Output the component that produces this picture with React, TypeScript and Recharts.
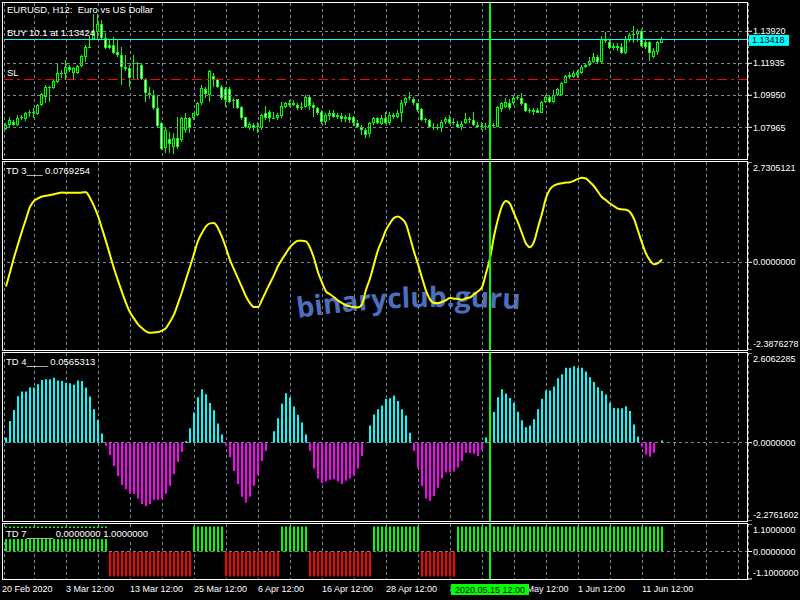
import React from 'react';
import { ComposedChart, Bar, Line, XAxis, YAxis, CartesianGrid, ReferenceLine, Cell } from 'recharts';

// ---------- data ----------
const opens = [
  1.0784, 1.0811, 1.0832, 1.0811, 1.0852, 1.0846, 1.0883, 1.0894, 1.0879, 1.0935,
  1.0987, 1.1049, 1.1038, 1.1080, 1.1131, 1.1127, 1.1168, 1.1131, 1.1131, 1.1177,
  1.1235, 1.1297, 1.1342, 1.1390, 1.1437, 1.1348, 1.1307, 1.1307, 1.1266, 1.1245,
  1.1173, 1.1162, 1.1189, 1.1197, 1.1183, 1.1094, 1.1007, 1.0997, 1.0914, 1.0821,
  1.0666, 1.0722, 1.0677, 1.0728, 1.0718, 1.0780, 1.0852, 1.0852, 1.0873, 1.0945,
  1.1032, 1.0997, 1.1115, 1.1094, 1.1044, 1.1032, 1.1032, 1.0960, 1.0970, 1.0920,
  1.0858, 1.0790, 1.0811, 1.0796, 1.0790, 1.0887, 1.0894, 1.0852, 1.0852, 1.0867,
  1.0925, 1.0945, 1.0945, 1.0933, 1.0914, 1.0920, 1.0987, 1.0935, 1.0914, 1.0894,
  1.0832, 1.0867, 1.0883, 1.0873, 1.0867, 1.0846, 1.0863, 1.0858, 1.0825, 1.0801,
  1.0780, 1.0755, 1.0821, 1.0852, 1.0817, 1.0852, 1.0821, 1.0873, 1.0863, 1.0883,
  1.0945, 1.0976, 1.0974, 1.0945, 1.0908, 1.0842, 1.0842, 1.0801, 1.0794, 1.0790,
  1.0832, 1.0846, 1.0825, 1.0817, 1.0801, 1.0821, 1.0846, 1.0842, 1.0811, 1.0801,
  1.0807, 1.0801, 1.0811, 1.0801, 1.0908, 1.0925, 1.0949, 1.0945, 1.0976, 1.0976,
  1.0945, 1.0900, 1.0904, 1.0904, 1.0887, 1.0956, 1.0982, 1.0956, 1.0997, 1.0997,
  1.1073, 1.1119, 1.1106, 1.1121, 1.1135, 1.1168, 1.1183, 1.1204, 1.1230, 1.1204,
  1.1342, 1.1328, 1.1286, 1.1301, 1.1297, 1.1259, 1.1338, 1.1369, 1.1375, 1.1396,
  1.1328, 1.1328, 1.1235, 1.1266, 1.1321,
];
const highs = [
  1.0821, 1.0863, 1.0842, 1.0873, 1.0873, 1.0894, 1.0904, 1.0914, 1.0941, 1.1007,
  1.1059, 1.1052, 1.1094, 1.1189, 1.1152, 1.1214, 1.1183, 1.1173, 1.1183, 1.1245,
  1.1307, 1.1363, 1.1499, 1.1499, 1.1462, 1.1379, 1.1338, 1.1359, 1.1338, 1.1297,
  1.1245, 1.1183, 1.1245, 1.1204, 1.1193, 1.1100, 1.1044, 1.1028, 1.0997, 1.0832,
  1.0790, 1.0770, 1.0759, 1.0863, 1.0863, 1.0883, 1.0863, 1.0887, 1.0956, 1.1059,
  1.1049, 1.1152, 1.1135, 1.1100, 1.1059, 1.1049, 1.1044, 1.0976, 1.0970, 1.0929,
  1.0863, 1.0832, 1.0825, 1.0832, 1.0877, 1.0929, 1.0904, 1.0894, 1.0883, 1.0956,
  1.0956, 1.0966, 1.0966, 1.0945, 1.0956, 1.0997, 1.0997, 1.0945, 1.0920, 1.0904,
  1.0883, 1.0904, 1.0904, 1.0883, 1.0883, 1.0873, 1.0883, 1.0867, 1.0842, 1.0811,
  1.0790, 1.0832, 1.0863, 1.0863, 1.0873, 1.0894, 1.0894, 1.0887, 1.0904, 1.0966,
  1.0987, 1.1018, 1.0987, 1.0949, 1.0914, 1.0852, 1.0848, 1.0825, 1.0817, 1.0842,
  1.0858, 1.0873, 1.0852, 1.0838, 1.0838, 1.0883, 1.0863, 1.0894, 1.0832, 1.0832,
  1.0825, 1.0825, 1.0825, 1.0929, 1.0956, 1.0976, 1.0970, 1.0997, 1.0997, 1.1007,
  1.0949, 1.0914, 1.0914, 1.0914, 1.0960, 1.0997, 1.0991, 1.1028, 1.1038, 1.1080,
  1.1121, 1.1142, 1.1148, 1.1152, 1.1183, 1.1197, 1.1235, 1.1259, 1.1245, 1.1363,
  1.1390, 1.1338, 1.1321, 1.1321, 1.1321, 1.1363, 1.1379, 1.1425, 1.1404, 1.1404,
  1.1342, 1.1334, 1.1286, 1.1334, 1.1354,
];
const lows = [
  1.0780, 1.0801, 1.0805, 1.0805, 1.0842, 1.0838, 1.0863, 1.0852, 1.0873, 1.0929,
  1.0945, 1.0956, 1.1032, 1.1073, 1.1100, 1.1090, 1.1142, 1.1094, 1.1127, 1.1173,
  1.1204, 1.1286, 1.1338, 1.1342, 1.1342, 1.1280, 1.1280, 1.1251, 1.1235, 1.1059,
  1.1148, 1.1044, 1.1090, 1.1090, 1.1090, 1.0956, 1.0970, 1.0904, 1.0801, 1.0656,
  1.0635, 1.0635, 1.0631, 1.0660, 1.0708, 1.0759, 1.0759, 1.0842, 1.0867, 1.0935,
  1.0976, 1.0956, 1.1049, 1.1038, 1.0966, 1.0925, 1.0949, 1.0914, 1.0908, 1.0842,
  1.0790, 1.0780, 1.0776, 1.0763, 1.0780, 1.0842, 1.0832, 1.0846, 1.0842, 1.0852,
  1.0914, 1.0925, 1.0929, 1.0904, 1.0904, 1.0914, 1.0904, 1.0858, 1.0873, 1.0817,
  1.0811, 1.0842, 1.0852, 1.0846, 1.0832, 1.0832, 1.0821, 1.0805, 1.0790, 1.0749,
  1.0728, 1.0739, 1.0811, 1.0817, 1.0811, 1.0817, 1.0811, 1.0846, 1.0852, 1.0832,
  1.0929, 1.0966, 1.0935, 1.0894, 1.0838, 1.0821, 1.0790, 1.0780, 1.0780, 1.0770,
  1.0817, 1.0817, 1.0811, 1.0790, 1.0780, 1.0817, 1.0825, 1.0805, 1.0790, 1.0780,
  1.0780, 1.0790, 1.0796, 1.0796, 1.0894, 1.0914, 1.0904, 1.0935, 1.0966, 1.0929,
  1.0894, 1.0887, 1.0873, 1.0883, 1.0883, 1.0949, 1.0949, 1.0945, 1.0991, 1.0991,
  1.1069, 1.1094, 1.1100, 1.1100, 1.1127, 1.1162, 1.1177, 1.1197, 1.1197, 1.1193,
  1.1321, 1.1280, 1.1276, 1.1272, 1.1251, 1.1251, 1.1328, 1.1321, 1.1328, 1.1292,
  1.1280, 1.1210, 1.1224, 1.1245, 1.1317,
];
const closes = [
  1.0811, 1.0842, 1.0811, 1.0852, 1.0858, 1.0883, 1.0894, 1.0887, 1.0935, 1.1001,
  1.1049, 1.1038, 1.1086, 1.1131, 1.1127, 1.1168, 1.1152, 1.1162, 1.1177, 1.1239,
  1.1297, 1.1290, 1.1396, 1.1437, 1.1348, 1.1290, 1.1290, 1.1259, 1.1245, 1.1173,
  1.1156, 1.1100, 1.1197, 1.1189, 1.1094, 1.1007, 1.0997, 1.0914, 1.0805, 1.0660,
  1.0780, 1.0693, 1.0728, 1.0677, 1.0852, 1.0852, 1.0790, 1.0883, 1.0945, 1.1038,
  1.1001, 1.1148, 1.1090, 1.1044, 1.0976, 1.0966, 1.0956, 1.0966, 1.0914, 1.0852,
  1.0796, 1.0817, 1.0790, 1.0805, 1.0873, 1.0852, 1.0852, 1.0856, 1.0873, 1.0929,
  1.0945, 1.0933, 1.0933, 1.0914, 1.0925, 1.0987, 1.0929, 1.0914, 1.0887, 1.0832,
  1.0873, 1.0883, 1.0863, 1.0858, 1.0846, 1.0863, 1.0842, 1.0821, 1.0796, 1.0780,
  1.0749, 1.0825, 1.0852, 1.0821, 1.0852, 1.0821, 1.0873, 1.0858, 1.0883, 1.0949,
  1.0976, 1.0982, 1.0945, 1.0904, 1.0842, 1.0846, 1.0801, 1.0794, 1.0801, 1.0832,
  1.0846, 1.0825, 1.0832, 1.0801, 1.0817, 1.0846, 1.0850, 1.0811, 1.0801, 1.0807,
  1.0801, 1.0811, 1.0805, 1.0920, 1.0949, 1.0956, 1.0914, 1.0976, 1.0982, 1.0941,
  1.0900, 1.0906, 1.0894, 1.0887, 1.0956, 1.0987, 1.0956, 1.0997, 1.1032, 1.1073,
  1.1115, 1.1106, 1.1135, 1.1142, 1.1168, 1.1181, 1.1210, 1.1235, 1.1204, 1.1342,
  1.1334, 1.1286, 1.1301, 1.1286, 1.1259, 1.1342, 1.1371, 1.1375, 1.1396, 1.1301,
  1.1292, 1.1259, 1.1272, 1.1328, 1.1342,
];
const td3 = [
  -0.66, -0.27, 0.13, 0.49, 0.85, 1.18, 1.51, 1.67, 1.74, 1.79,
  1.81, 1.83, 1.85, 1.88, 1.90, 1.89, 1.89, 1.89, 1.89, 1.90,
  1.91, 1.75, 1.53, 1.26, 0.92, 0.57, 0.20, -0.17, -0.50, -0.81,
  -1.11, -1.36, -1.53, -1.69, -1.79, -1.88, -1.92, -1.91, -1.90, -1.86,
  -1.79, -1.62, -1.42, -1.12, -0.81, -0.46, -0.12, 0.23, 0.58, 0.80,
  0.98, 1.06, 1.07, 0.93, 0.69, 0.39, 0.06, -0.19, -0.44, -0.68,
  -0.93, -1.11, -1.22, -1.22, -1.02, -0.79, -0.57, -0.35, -0.10, 0.08,
  0.25, 0.41, 0.52, 0.59, 0.59, 0.57, 0.40, 0.11, -0.27, -0.55,
  -0.79, -0.87, -0.95, -1.04, -1.11, -1.17, -1.20, -1.22, -1.23, -1.14,
  -0.75, -0.44, -0.05, 0.33, 0.60, 0.88, 1.06, 1.21, 1.25, 1.18,
  1.04, 0.68, 0.29, -0.05, -0.42, -0.77, -1.01, -1.11, -1.11, -1.08,
  -1.03, -0.97, -0.99, -1.00, -1.02, -0.98, -0.96, -0.87, -0.79, -0.68,
  -0.30, 0.11, 0.71, 1.17, 1.53, 1.67, 1.59, 1.33, 1.08, 0.79,
  0.51, 0.41, 0.56, 0.95, 1.33, 1.75, 1.99, 2.09, 2.13, 2.15,
  2.17, 2.18, 2.22, 2.27, 2.30, 2.28, 2.18, 2.07, 1.92, 1.77,
  1.69, 1.60, 1.53, 1.46, 1.44, 1.43, 1.37, 1.18, 0.86, 0.53,
  0.24, 0.05, -0.05, -0.02, 0.08,
];
const td4 = [
  0.15, 0.63, 0.95, 1.35, 1.49, 1.49, 1.60, 1.60, 1.70, 1.82,
  1.84, 1.84, 1.89, 1.81, 1.79, 1.74, 1.73, 1.68, 1.81, 1.79,
  1.60, 1.34, 0.97, 0.66, 0.27, -0.10, -0.36, -0.68, -0.97, -1.23,
  -1.35, -1.48, -1.49, -1.62, -1.78, -1.84, -1.78, -1.66, -1.66, -1.64,
  -1.49, -1.26, -0.91, -0.56, -0.27, 0.05, 0.42, 0.88, 1.32, 1.55,
  1.41, 1.15, 0.94, 0.56, 0.24, -0.08, -0.42, -0.82, -1.20, -1.57,
  -1.74, -1.57, -1.26, -0.94, -0.53, -0.24, 0, 0.33, 0.71, 1.14,
  1.44, 1.31, 1.05, 0.81, 0.59, 0.24, -0.24, -0.75, -1.04, -1.18,
  -1.13, -1.08, -1.06, -1.13, -1.20, -1.11, -1.04, -0.97, -0.75, -0.39,
  -0.02, 0.50, 0.82, 0.97, 1.08, 1.28, 1.29, 1.37, 1.21, 0.97,
  0.79, 0.29, -0.24, -0.72, -1.26, -1.62, -1.69, -1.55, -1.31, -1.04,
  -0.87, -0.87, -0.84, -0.72, -0.53, -0.29, -0.31, -0.32, -0.39, -0.21,
  0.15, 0.50, 0.89, 1.32, 1.55, 1.43, 1.30, 1.15, 0.90, 0.65,
  0.45, 0.50, 0.68, 0.97, 1.28, 1.52, 1.52, 1.63, 1.87, 1.99,
  2.18, 2.18, 2.22, 2.18, 2.18, 2.07, 1.90, 1.76, 1.61, 1.50,
  1.40, 1.16, 1.01, 1.00, 1.00, 1.06, 0.92, 0.53, 0.18, -0.12,
  -0.34, -0.41, -0.29, 0, 0.06,
];
const td7 = [
  1, 1, 1, 1, 1, 1, 1, 1, 1, 1, 1, 1, 1, 1, 1, 1, 1, 1, 1, 1, 1, 1, 1, 1, 1, 1,
  -1, -1, -1, -1, -1, -1, -1, -1, -1, -1, -1, -1, -1, -1, -1, -1, -1, -1, -1, -1, -1,
  1, 1, 1, 1, 1, 1, 1, 1,
  -1, -1, -1, -1, -1, -1, -1, -1, -1, -1, -1, -1, -1, -1,
  1, 1, 1, 1, 1, 1, 1,
  -1, -1, -1, -1, -1, -1, -1, -1, -1, -1, -1, -1, -1, -1, -1, -1,
  1, 1, 1, 1, 1, 1, 1, 1, 1, 1, 1, 1,
  -1, -1, -1, -1, -1, -1, -1, -1, -1,
  1, 1, 1, 1, 1, 1, 1, 1, 1, 1, 1, 1, 1, 1, 1, 1, 1, 1, 1, 1, 1, 1, 1, 1, 1, 1,
  1, 1, 1, 1, 1, 1, 1, 1, 1, 1, 1, 1, 1, 1, 1, 1, 1, 1, 1, 1, 1, 1, 1, 1, 1, 1,
];

const SLOTS = 186;
const gridIdx = [7, 15, 23, 31, 39, 47, 55, 63, 71, 79, 87, 95, 103, 111, 119, 127, 135, 143, 151, 159, 167, 175, 183];
const xTickIdx = [0, 15, 31, 47, 63, 79, 95, 111, 127, 143, 159];
const xTickLabels = ['20 Feb 2020', '3 Mar 12:00', '13 Mar 12:00', '25 Mar 12:00', '6 Apr 12:00', '16 Apr 12:00', '28 Apr 12:00', '8 May 12:00', '20 May 12:00', '1 Jun 12:00', '11 Jun 12:00'];
const priceTicks = [1.1392, 1.11935, 1.0995, 1.07965];
const priceDomain = [1.06, 1.15672];
const bidPrice = 1.13418;
const buyLabel = 'BUY 10.1 at 1.13424';
const slPrice = 1.1094;
const markerIdx = 121;
const markerLabel = '2020.05.15 12:00';
const td3Domain = [-2.3876278, 2.7305121];
const td4Domain = [-2.2761602, 2.6062285];
const td7Domain = [-1.1, 1.1];
const td3Ticks = [2.7305121, 0, -2.3876278];
const td4Ticks = [2.6062285, 0, -2.2761602];
const td7Ticks = [1.1, 0, -1.1];
const title = 'EURUSD, H12:  Euro vs US Dollar';
const td3Title = 'TD 3___ 0.0769254';
const td4Title = 'TD 4____ 0.0565313';
const td7Title = 'TD 7_____ 0.0000000 1.0000000';

const rows = Array.from({ length: SLOTS }, (_, i) =>
  i < opens.length
    ? { i, range: [lows[i], highs[i]], open: opens[i], high: highs[i], low: lows[i], close: closes[i], td3: td3[i], td4: td4[i], td7: td7[i] }
    : { i }
);

// ---------- styling / layout ----------
const FONT = '"Liberation Sans", Arial, sans-serif';
const GRID = '#778899';
const LIME = '#00ff00';
const PLOT_LEFT = 4;
const AXIS_W = 52;
const CHART_W = 800;
const PLOT_W = CHART_W - PLOT_LEFT - AXIS_W;
const M = { top: 0, right: 0, bottom: 0, left: PLOT_LEFT };
const XDOM: [number, number] = [-0.5, SLOTS - 0.5];
const P4_TOP = 524;
const P4_PLOT_H = 55;
const P4_AXIS_H = 22;
// same linear mapping the charts' x axes use (for the overlay marker label only)
const xOf = (v: number) => PLOT_LEFT + ((v - XDOM[0]) / (XDOM[1] - XDOM[0])) * PLOT_W;

function Candle(props: any) {
  const { x, y, width, height, payload } = props;
  if (!payload || payload.open == null || !isFinite(y) || !isFinite(height)) return null;
  const cx = Math.round(x + width / 2);
  const span = payload.high - payload.low || 1e-9;
  const toY = (v: number) => y + ((payload.high - v) / span) * height;
  const yo = toY(payload.open);
  const yc = toY(payload.close);
  const top = Math.round(Math.min(yo, yc));
  const bot = Math.round(Math.max(yo, yc));
  const bull = payload.close >= payload.open;
  return (
    <g>
      <line x1={cx - 0.5} x2={cx - 0.5} y1={Math.round(y)} y2={Math.round(y + height)} stroke={LIME} />
      {bot - top >= 2 ? (
        <rect x={cx - 1.5} y={top + 0.5} width={2} height={bot - top - 1} fill={bull ? '#000' : '#fff'} stroke={LIME} />
      ) : (
        <line x1={cx - 2} x2={cx + 1} y1={top + 0.5} y2={top + 0.5} stroke={LIME} />
      )}
    </g>
  );
}

const yTick = (digits: number, lo: number, hi: number) => (props: any) => {
  const { x, y, payload } = props;
  const v = payload.value as number;
  const dy = v === hi ? 9 : v === lo ? -3 : 3.2;
  return (
    <text x={x} y={y + dy} fill="#fff" fontSize={9} fontFamily={FONT}>
      {v.toFixed(digits)}
    </text>
  );
};

const xTick = (props: any) => {
  const { x, payload } = props;
  const k = xTickIdx.indexOf(payload.value);
  if (k < 0) return null;
  return (
    <text x={k === 0 ? x - 4 : x} y={P4_PLOT_H + 12.5} fill="#fff" fontSize={9} fontFamily={FONT}>
      {xTickLabels[k]}
    </text>
  );
};

const rightAxis = (domain: number[], ticks: number[], digits: number) => (
  <YAxis
    orientation="right"
    width={AXIS_W}
    type="number"
    domain={domain}
    allowDataOverflow
    ticks={ticks}
    interval={0}
    axisLine={false}
    tickLine={{ stroke: '#fff' }}
    tickSize={4}
    tickMargin={1}
    tick={yTick(digits, domain[0], domain[1])}
  />
);

const grid = <CartesianGrid vertical horizontal={false} stroke={GRID} strokeDasharray="3 3" shapeRendering="crispEdges" />;
const hiddenX = <XAxis dataKey="i" type="number" domain={XDOM} ticks={gridIdx} interval={0} hide />;
const marker = <ReferenceLine x={markerIdx} stroke={LIME} strokeWidth={2} shapeRendering="crispEdges" />;

export default function App() {
  const mx = xOf(markerIdx);
  return (
    <div style={{ position: 'fixed', left: 0, top: 0, width: 800, height: 600, background: '#000', overflow: 'hidden' }}>
      {/* watermark behind */}
      <svg width={800} height={600} style={{ position: 'absolute', left: 0, top: 0 }}>
        <defs>
          <path id="wm" d="M 298 318 Q 404 302 514 309" />
        </defs>
        <text fontFamily='"Open Sans", sans-serif' fontWeight={700} fontSize={28} fill="#4d6fbd">
          <textPath href="#wm">binaryclub.guru</textPath>
        </text>
      </svg>

      {/* panel 1: price */}
      <div style={{ position: 'absolute', left: 0, top: 3 }}>
        <ComposedChart width={CHART_W} height={156} data={rows} margin={M}>
          {grid}
          {hiddenX}
          {rightAxis(priceDomain, priceTicks, 5)}
          {priceTicks.map((p) => (
            <ReferenceLine key={p} y={p} stroke={GRID} strokeDasharray="3 3" shapeRendering="crispEdges" />
          ))}
          <ReferenceLine
            y={slPrice}
            stroke="#ff0000"
            strokeDasharray="10 4 3 4"
            shapeRendering="crispEdges"
            label={(p: any) => (
              <text x={p.viewBox.x + 3} y={p.viewBox.y - 3} fill="#fff" fontSize={9.5} fontFamily={FONT}>SL</text>
            )}
          />
          <Bar dataKey="range" barSize={2} isAnimationActive={false} shape={(p: any) => <Candle {...p} />} />
          <ReferenceLine
            y={bidPrice}
            stroke="#00ffff"
            shapeRendering="crispEdges"
            label={(p: any) => (
              <g>
                <text x={p.viewBox.x + 3} y={p.viewBox.y - 3} fill="#fff" fontSize={9.5} fontFamily={FONT}>{buyLabel}</text>
                <rect x={p.viewBox.x + p.viewBox.width + 1} y={p.viewBox.y - 4.5} width={40} height={11} fill="#00ffff" />
                <text x={p.viewBox.x + p.viewBox.width + 4} y={p.viewBox.y + 4} fill="#000" fontSize={9} fontFamily={FONT}>
                  {bidPrice.toFixed(5)}
                </text>
              </g>
            )}
          />
          {marker}
        </ComposedChart>
      </div>

      {/* panel 2: TD 3 line */}
      <div style={{ position: 'absolute', left: 0, top: 162 }}>
        <ComposedChart width={CHART_W} height={188} data={rows} margin={M}>
          {grid}
          {hiddenX}
          {rightAxis(td3Domain, td3Ticks, 7)}
          <ReferenceLine y={0} stroke={GRID} strokeDasharray="3 3" shapeRendering="crispEdges" />
          <Line dataKey="td3" type="monotone" stroke="#ffff00" strokeWidth={2} dot={false} isAnimationActive={false} />
          {marker}
        </ComposedChart>
      </div>

      {/* panel 3: TD 4 histogram */}
      <div style={{ position: 'absolute', left: 0, top: 353 }}>
        <ComposedChart width={CHART_W} height={168} data={rows} margin={M}>
          {grid}
          {hiddenX}
          {rightAxis(td4Domain, td4Ticks, 7)}
          <ReferenceLine y={0} stroke={GRID} strokeDasharray="3 3" shapeRendering="crispEdges" />
          <Bar dataKey="td4" barSize={2} isAnimationActive={false}>
            {rows.map((r: any) => (
              <Cell key={r.i} fill={(r.td4 ?? 0) >= 0 ? '#00ffff' : '#ff00ff'} />
            ))}
          </Bar>
          {marker}
        </ComposedChart>
      </div>

      {/* panel 4: TD 7 bars + time axis */}
      <div style={{ position: 'absolute', left: 0, top: P4_TOP }}>
        <ComposedChart width={CHART_W} height={P4_PLOT_H + P4_AXIS_H} data={rows} margin={M}>
          <CartesianGrid xAxisId="g" vertical horizontal={false} stroke={GRID} strokeDasharray="3 3" shapeRendering="crispEdges" />
          <XAxis xAxisId="g" dataKey="i" type="number" domain={XDOM} ticks={gridIdx} interval={0} hide />
          <XAxis
            xAxisId="lbl"
            dataKey="i"
            type="number"
            domain={XDOM}
            ticks={xTickIdx}
            interval={0}
            height={P4_AXIS_H}
            axisLine={false}
            tickLine={{ stroke: '#fff' }}
            tickSize={4}
            tickMargin={2}
            tick={xTick}
          />
          {rightAxis(td7Domain, td7Ticks, 7)}
          <ReferenceLine xAxisId="g" y={0} stroke={GRID} strokeDasharray="3 3" shapeRendering="crispEdges" />
          <Bar xAxisId="g" dataKey="td7" barSize={2} isAnimationActive={false}>
            {rows.map((r: any) => (
              <Cell key={r.i} fill={(r.td7 ?? 0) > 0 ? LIME : '#ff0000'} />
            ))}
          </Bar>
          <ReferenceLine xAxisId="g" x={markerIdx} stroke={LIME} strokeWidth={2} shapeRendering="crispEdges" />
        </ComposedChart>
      </div>

      {/* overlay: frames, titles, marker time label */}
      <svg width={800} height={600} style={{ position: 'absolute', left: 0, top: 0, pointerEvents: 'none' }}>
        <g fill="none" stroke="#fff" strokeWidth={1}>
          <rect x={2.5} y={2.5} width={745} height={157} />
          <rect x={2.5} y={161.5} width={745} height={189} />
          <rect x={2.5} y={352.5} width={745} height={169} />
          <rect x={2.5} y={523.5} width={745} height={56} />
        </g>
        <text x={7} y={13} fill="#fff" fontSize={9.5} fontFamily={FONT} style={{ whiteSpace: 'pre' }}>{title}</text>
        <text x={6} y={173.5} fill="#fff" fontSize={9.5} fontFamily={FONT}>{td3Title}</text>
        <text x={6} y={365} fill="#fff" fontSize={9.5} fontFamily={FONT}>{td4Title}</text>
        <rect x={4} y={528} width={136} height={11} fill="#000" />
        <text x={6} y={536.5} fill="#fff" fontSize={9.5} fontFamily={FONT}>{td7Title}</text>
        <rect x={mx - 39} y={P4_TOP + P4_PLOT_H + 5} width={78} height={11} fill={LIME} />
        <text x={mx} y={P4_TOP + P4_PLOT_H + 13.5} textAnchor="middle" fill="#000" fontSize={9} fontFamily={FONT}>{markerLabel}</text>
      </svg>
    </div>
  );
}
